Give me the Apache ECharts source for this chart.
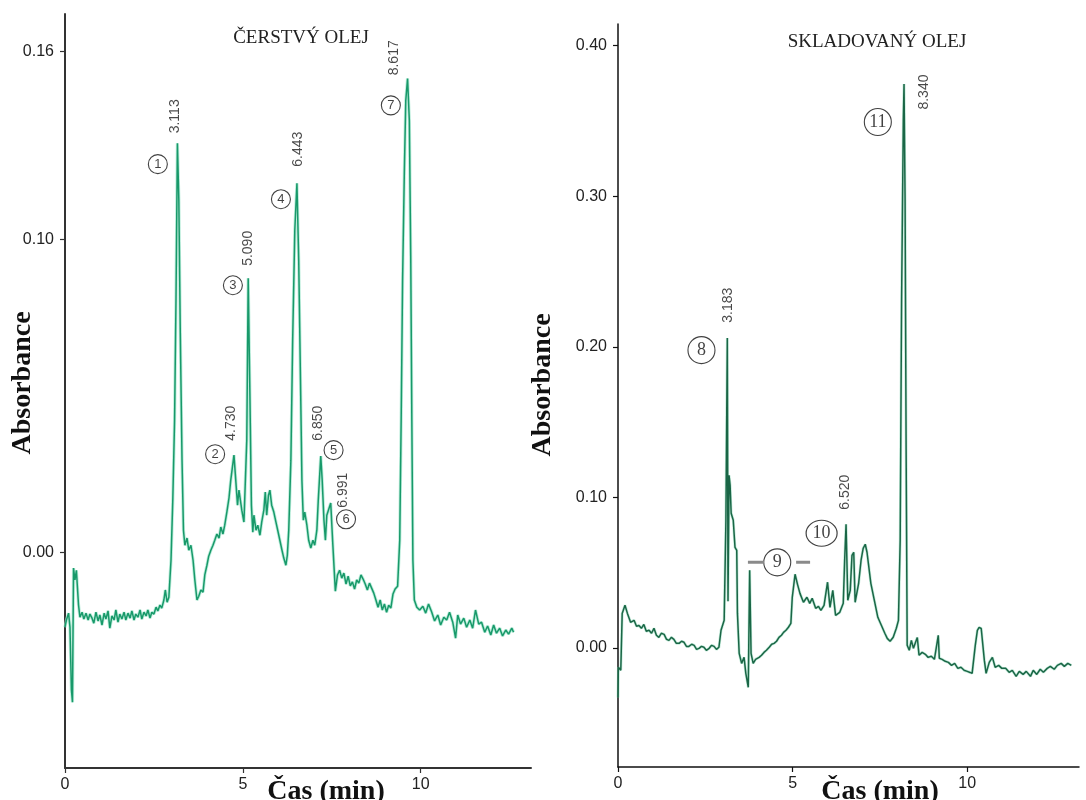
<!DOCTYPE html>
<html><head><meta charset="utf-8">
<script src="https://cdn.jsdelivr.net/npm/echarts@6/dist/echarts.min.js"></script>
<style>html,body{margin:0;padding:0;background:#fff}#c{width:1086px;height:800px}</style>
</head><body><div id="c"></div>
<script>
// Fresh oil chromatogram: [time (min), absorbance]
const freshTrace = [
[0.00,-0.024],[0.04,-0.0217],[0.10,-0.0195],[0.14,-0.024],[0.18,-0.044],[0.21,-0.048],[0.24,-0.0051],[0.28,-0.0089],[0.32,-0.0058],[0.38,-0.0169],
[0.42,-0.0208],[0.48,-0.0192],[0.53,-0.0214],[0.59,-0.0195],[0.65,-0.0217],[0.70,-0.0198],[0.76,-0.0211],[0.81,-0.0227],[0.87,-0.0192],[0.93,-0.022],
[0.98,-0.0201],[1.04,-0.0233],[1.10,-0.0195],[1.15,-0.0214],[1.21,-0.0188],[1.26,-0.0243],[1.32,-0.0204],[1.38,-0.0217],[1.43,-0.0185],[1.49,-0.0224],
[1.54,-0.0198],[1.60,-0.0214],[1.66,-0.0192],[1.71,-0.0217],[1.77,-0.0195],[1.83,-0.0211],[1.88,-0.0188],[1.94,-0.0217],[1.99,-0.0198],[2.05,-0.0208],
[2.11,-0.0185],[2.16,-0.0214],[2.22,-0.0192],[2.28,-0.0204],[2.33,-0.0185],[2.39,-0.0211],[2.44,-0.0192],[2.50,-0.0198],[2.56,-0.0176],[2.61,-0.0188],
[2.67,-0.0169],[2.72,-0.0179],[2.78,-0.0153],[2.82,-0.0121],[2.87,-0.016],[2.92,-0.0144],[2.98,-0.0026],[3.03,0.0166],[3.08,0.042],[3.12,0.0805],
[3.16,0.1307],[3.20,0.1125],[3.24,0.0709],[3.29,0.0294],[3.33,0.007],[3.37,0.0022],[3.43,0.0045],[3.48,0.0006],[3.54,0.0022],[3.60,-0.0026],
[3.65,-0.0089],[3.71,-0.0153],[3.76,-0.0141],[3.82,-0.0121],[3.88,-0.0128],[3.93,-0.0073],[3.99,-0.0042],[4.04,-0.0013],[4.10,0.0006],[4.16,0.0022],
[4.21,0.0038],[4.27,0.0058],[4.33,0.0045],[4.38,0.008],[4.44,0.0058],[4.49,0.0086],[4.55,0.0128],[4.61,0.0173],[4.66,0.023],[4.71,0.0275],
[4.75,0.031],[4.80,0.023],[4.85,0.015],[4.89,0.0198],[4.93,0.0204],[4.97,0.0134],[5.03,0.0096],[5.08,0.0102],[5.11,0.0358],[5.15,0.0875],
[5.20,0.0486],[5.24,0.015],[5.28,0.0064],[5.31,0.0118],[5.37,0.007],[5.42,0.0086],[5.48,0.0054],[5.53,0.0096],[5.59,0.0134],[5.63,0.0192],
[5.67,0.0118],[5.72,0.0182],[5.76,0.0198],[5.81,0.015],[5.87,0.0128],[5.93,0.0096],[5.98,0.007],[6.04,0.0038],[6.10,0.0006],[6.15,-0.0019],
[6.21,-0.0042],[6.25,-0.001],[6.29,0.007],[6.35,0.0294],[6.40,0.0677],[6.46,0.1029],[6.52,0.1179],[6.57,0.0933],[6.62,0.0549],[6.66,0.023],
[6.70,0.0102],[6.74,0.0128],[6.80,0.0086],[6.85,0.0038],[6.91,0.0013],[6.97,0.0038],[7.02,0.0022],[7.08,0.007],[7.12,0.0166],[7.19,0.0307],
[7.23,0.023],[7.28,0.0102],[7.32,0.0038],[7.36,0.0118],[7.40,0.0118],[7.47,0.0157],[7.53,0.0022],[7.60,-0.0125],[7.66,-0.0073],[7.72,-0.0058],
[7.78,-0.0083],[7.84,-0.0067],[7.90,-0.0102],[7.96,-0.0077],[8.02,-0.0108],[8.08,-0.0095],[8.14,-0.0118],[8.20,-0.0089],[8.26,-0.0099],[8.32,-0.0073],
[8.38,-0.0086],[8.44,-0.0102],[8.50,-0.0121],[8.56,-0.0099],[8.62,-0.0115],[8.68,-0.0131],[8.74,-0.0153],[8.80,-0.0176],[8.86,-0.0153],[8.92,-0.0185],
[8.98,-0.0166],[9.04,-0.0192],[9.10,-0.017],[9.16,-0.0179],[9.22,-0.0134],[9.28,-0.0118],[9.35,-0.0109],[9.41,0.0038],[9.45,0.0422],[9.49,0.0869],
[9.54,0.122],[9.58,0.1444],[9.63,0.1514],[9.68,0.138],[9.72,0.0933],[9.75,0.0422],[9.78,-0.0026],[9.82,-0.0153],[9.89,-0.0176],[9.97,-0.0185],
[10.06,-0.0173],[10.14,-0.0195],[10.22,-0.0166],[10.31,-0.0192],[10.39,-0.022],[10.48,-0.0201],[10.56,-0.0233],[10.65,-0.0208],[10.73,-0.0217],[10.81,-0.0192],
[10.90,-0.0224],[10.98,-0.0275],[11.04,-0.0201],[11.12,-0.023],[11.21,-0.0211],[11.29,-0.024],[11.38,-0.0217],[11.46,-0.0243],[11.54,-0.0185],[11.63,-0.023],
[11.71,-0.0224],[11.80,-0.0256],[11.88,-0.0236],[11.97,-0.0265],[12.05,-0.0233],[12.13,-0.0259],[12.22,-0.0243],[12.30,-0.0268],[12.39,-0.0249],[12.47,-0.0262],
[12.56,-0.0243],[12.61,-0.0256]
];

// Stored oil chromatogram: [time (min), absorbance]
const storedTrace = [
[0.00,-0.0328],[0.01,-0.0128],[0.08,-0.0148],[0.12,0.023],[0.20,0.0284],[0.27,0.023],[0.36,0.0171],[0.46,0.0184],[0.53,0.0145],[0.60,0.015],
[0.67,0.0131],[0.74,0.0157],[0.81,0.0111],[0.89,0.0118],[0.96,0.0098],[1.03,0.0131],[1.10,0.0085],[1.17,0.0071],[1.24,0.0098],[1.32,0.0091],
[1.39,0.0058],[1.46,0.0051],[1.53,0.0071],[1.60,0.0058],[1.67,0.0031],[1.75,0.0031],[1.82,0.0045],[1.89,0.0038],[1.96,0.0011],[2.03,0.0011],
[2.11,0.0025],[2.18,0.0018],[2.25,-0.0009],[2.32,-0.0002],[2.39,0.0011],[2.46,0.0005],[2.53,-0.0015],[2.61,-0.0002],[2.68,0.0018],[2.75,0.0011],
[2.82,-0.0009],[2.89,0.0005],[2.95,0.0118],[3.04,0.0184],[3.09,0.0849],[3.13,0.2058],[3.15,0.0311],[3.18,0.1147],[3.21,0.1081],[3.24,0.0895],
[3.30,0.0849],[3.35,0.0669],[3.40,0.0649],[3.42,0.023],[3.47,-0.0035],[3.54,-0.0102],[3.61,-0.0062],[3.66,-0.0168],[3.73,-0.0261],[3.77,0.0516],
[3.81,-0.0035],[3.87,-0.0102],[3.94,-0.0075],[4.04,-0.0062],[4.11,-0.0048],[4.18,-0.0029],[4.25,-0.0015],[4.33,0.0005],[4.40,0.0025],[4.47,0.0031],
[4.54,0.0045],[4.61,0.0071],[4.68,0.0085],[4.74,0.0104],[4.81,0.0118],[4.88,0.0138],[4.95,0.0164],[4.99,0.0337],[5.07,0.049],[5.14,0.0423],
[5.21,0.0363],[5.31,0.0304],[5.41,0.0337],[5.49,0.0297],[5.56,0.033],[5.66,0.0264],[5.74,0.0277],[5.81,0.025],[5.90,0.0284],[6.00,0.0437],
[6.07,0.027],[6.15,0.0383],[6.23,0.0217],[6.35,0.0237],[6.45,0.0297],[6.49,0.0583],[6.53,0.0822],[6.58,0.0317],[6.65,0.0383],[6.70,0.0616],
[6.75,0.0636],[6.79,0.0304],[6.89,0.043],[6.96,0.0583],[7.02,0.0662],[7.08,0.0689],[7.13,0.0636],[7.24,0.043],[7.34,0.0317],[7.44,0.0204],
[7.54,0.0151],[7.64,0.0098],[7.71,0.0064],[7.79,0.0045],[7.88,0.0071],[7.97,0.0131],[8.03,0.0184],[8.08,0.0716],[8.12,0.231],[8.17,0.3507],
[8.19,0.3745],[8.22,0.2975],[8.25,0.1313],[8.28,0.0018],[8.34,-0.0015],[8.40,0.0051],[8.46,-0.0002],[8.52,0.0038],[8.57,0.007],[8.62,-0.0048],
[8.71,-0.0029],[8.80,-0.0042],[8.88,-0.0062],[8.97,-0.0055],[9.06,-0.0075],[9.17,0.0084],[9.20,-0.0068],[9.28,-0.0075],[9.37,-0.0088],[9.46,-0.0095],
[9.55,-0.0115],[9.64,-0.0102],[9.73,-0.0135],[9.82,-0.0128],[9.91,-0.0148],[10.00,-0.0155],[10.08,-0.0162],[10.14,-0.0168],[10.23,0.0018],[10.29,0.0117],
[10.34,0.0137],[10.40,0.013],[10.49,-0.0082],[10.54,-0.0168],[10.63,-0.0095],[10.72,-0.0062],[10.80,-0.0128],[10.90,-0.0115],[10.99,-0.0135],[11.10,-0.0135],
[11.20,-0.0161],[11.29,-0.0148],[11.40,-0.0188],[11.49,-0.0155],[11.60,-0.0175],[11.69,-0.0155],[11.81,-0.0188],[11.89,-0.0148],[11.99,-0.0175],[12.09,-0.0141],
[12.18,-0.0161],[12.29,-0.0135],[12.38,-0.0122],[12.49,-0.0141],[12.58,-0.0115],[12.69,-0.0102],[12.78,-0.0122],[12.88,-0.0102],[12.98,-0.0115]
];

// Retention-time labels: [time, absorbance, text]
const freshRtLabels = [[3.09,0.1393,'3.113'],[4.66,0.0412,'4.730'],[5.15,0.0971,'5.090'],[6.54,0.1288,'6.443'],[7.11,0.0412,'6.850'],[7.81,0.0198,'6.991'],[9.26,0.158,'8.617']];
const storedRtLabels = [[3.15,0.2277,'3.183'],[6.50,0.1035,'6.520'],[8.77,0.3692,'8.340']];
// Peak numbers: [time, absorbance, number]
const freshPeakNums = [[2.61,0.124,'1'],[4.22,0.0313,'2'],[4.72,0.0853,'3'],[6.07,0.1128,'4'],[7.55,0.0326,'5'],[7.90,0.0105,'6'],[9.16,0.1428,'7']];
const storedPeakNums = [[2.39,0.1978,'8'],[4.56,0.0569,'9'],[5.83,0.0762,'10'],[7.44,0.3493,'11']];
// Range bars around peak 9: [start, end, absorbance]
const peak9Range = [[3.72,4.18,0.0569],[5.10,5.50,0.0569]];

const freshYTicks = [0, 0.10, 0.16];
const storedYTicks = [0, 0.10, 0.20, 0.30, 0.40];
const timeTicks = [0, 5, 10];

const chart = echarts.init(document.getElementById('c'), null, {renderer:'canvas'});

function xAx(gi, max, col, w){
  return {gridIndex:gi, type:'value', min:0, max:max,
    axisLine:{show:true, onZero:false, lineStyle:{color:col, width:w}},
    axisTick:{show:true, length:5, customValues:timeTicks, lineStyle:{color:col, width:1.2}},
    axisLabel:{customValues:timeTicks, fontSize:16, color:'#222', margin:9, fontFamily:'Liberation Sans'},
    splitLine:{show:false}};
}
function yAx(gi, min, max, ticks, col, w){
  return {gridIndex:gi, type:'value', min:min, max:max,
    axisLine:{show:true, onZero:false, lineStyle:{color:col, width:w}},
    axisTick:{show:true, length:5, customValues:ticks, lineStyle:{color:col, width:1.2}},
    axisLabel:{customValues:ticks, fontSize:16, color:'#222', margin:11, fontFamily:'Liberation Sans',
      formatter:v=>v.toFixed(2)},
    splitLine:{show:false}};
}
function rtSeries(xi, arr){
  return {type:'scatter', xAxisIndex:xi, yAxisIndex:xi, symbolSize:1, silent:true,
    itemStyle:{color:'rgba(0,0,0,0)'},
    data:arr.map(d=>({value:[d[0],d[1]], name:d[2]})),
    label:{show:true, position:'inside', rotate:90, formatter:p=>p.name, fontSize:14,
      fontFamily:'Liberation Sans', color:'#1a1a1a'}};
}
function numSeries(xi, arr, size, font, fs){
  return {type:'scatter', xAxisIndex:xi, yAxisIndex:xi, silent:true,
    symbol:'circle', symbolSize:(v,p)=> (p.name==='10' && xi===1) ? [31,26] : size,
    itemStyle:{color:'#fff', borderColor:'#111', borderWidth:1.1},
    data:arr.map(d=>({value:[d[0],d[1]], name:d[2]})),
    label:{show:true, position:'inside', formatter:p=>p.name, fontSize:fs, fontFamily:font, color:'#111'}};
}
function tr(arr){ return arr.map(d=>[d[0], d[1]]); }

const series = [
  {type:'line', xAxisIndex:0, yAxisIndex:0, data:tr(freshTrace), showSymbol:false, silent:true,
    lineStyle:{color:'#9fe6cc', width:3.2, opacity:0.7}},
  {type:'line', xAxisIndex:0, yAxisIndex:0, data:tr(freshTrace), showSymbol:false, silent:true,
    lineStyle:{color:'#18996a', width:1.5}},
  {type:'line', xAxisIndex:1, yAxisIndex:1, data:tr(storedTrace), showSymbol:false, silent:true,
    lineStyle:{color:'#86d6b4', width:2.8, opacity:0.5}},
  {type:'line', xAxisIndex:1, yAxisIndex:1, data:tr(storedTrace), showSymbol:false, silent:true,
    lineStyle:{color:'#1a6646', width:1.5}},
  rtSeries(0, freshRtLabels),
  rtSeries(1, storedRtLabels),
  numSeries(0, freshPeakNums, 19, 'Liberation Sans', 13),
  numSeries(1, storedPeakNums, 27, 'Liberation Serif', 18)
];
peak9Range.forEach(r=>{
  series.push({type:'line', xAxisIndex:1, yAxisIndex:1, data:[[r[0],r[2]],[r[1],r[2]]], showSymbol:false,
    silent:true, lineStyle:{color:'#8a8a8a', width:3}});
});

chart.setOption({
  animation:false,
  backgroundColor:'#fff',
  grid:[
    {left:65, top:14, width:466, height:754},
    {left:618, top:24, width:461, height:743}
  ],
  xAxis:[xAx(0, 13.1, '#333', 2), xAx(1, 13.2, '#111', 1.5)],
  yAxis:[yAx(0, -0.069, 0.172, freshYTicks, '#333', 2), yAx(1, -0.079, 0.4144, storedYTicks, '#111', 1.5)],
  series:series,
  graphic:[
    {type:'text', x:301, y:38, style:{text:'ČERSTVÝ OLEJ', font:'19px "Liberation Serif"', fill:'#222', align:'center', verticalAlign:'middle'}},
    {type:'text', x:877, y:42, style:{text:'SKLADOVANÝ OLEJ', font:'19px "Liberation Serif"', fill:'#222', align:'center', verticalAlign:'middle'}},
    {type:'text', x:23, y:383, rotation:Math.PI/2, style:{text:'Absorbance', font:'bold 28px "Liberation Serif"', fill:'#111', align:'center', verticalAlign:'middle'}},
    {type:'text', x:543, y:385, rotation:Math.PI/2, style:{text:'Absorbance', font:'bold 28px "Liberation Serif"', fill:'#111', align:'center', verticalAlign:'middle'}},
    {type:'text', x:326, y:792, style:{text:'Čas (min)', font:'bold 28px "Liberation Serif"', fill:'#111', align:'center', verticalAlign:'middle'}},
    {type:'text', x:880, y:792, style:{text:'Čas (min)', font:'bold 28px "Liberation Serif"', fill:'#111', align:'center', verticalAlign:'middle'}}
  ]
});
</script>
</body></html>
